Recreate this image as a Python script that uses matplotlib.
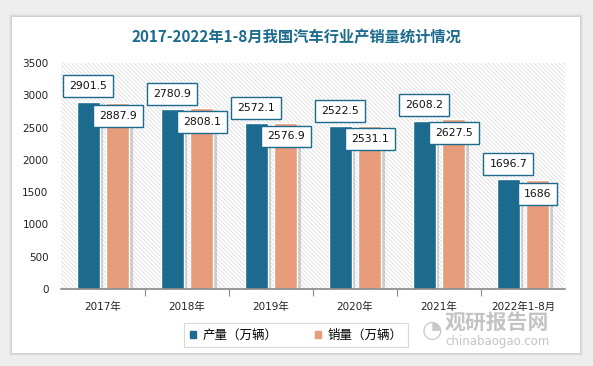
import matplotlib
matplotlib.use("Agg")
import matplotlib.pyplot as plt
import numpy as np
from matplotlib.patches import Rectangle
import matplotlib.patheffects as pe

categories = ["2017年", "2018年", "2019年", "2020年", "2021年", "2022年1-8月"]
production = [2901.5, 2780.9, 2572.1, 2522.5, 2608.2, 1696.7]
sales = [2887.9, 2808.1, 2576.9, 2531.1, 2627.5, 1686]
prod_labels = ["2901.5", "2780.9", "2572.1", "2522.5", "2608.2", "1696.7"]
sales_labels = ["2887.9", "2808.1", "2576.9", "2531.1", "2627.5", "1686"]
yticks = [0, 500, 1000, 1500, 2000, 2500, 3000, 3500]
title = "2017-2022年1-8月我国汽车行业产销量统计情况"
legend_names = ["产量（万辆）", "销量（万辆）"]

BLUE = "#1c6a8e"
SALMON = "#e79c7c"
CJK = ["DejaVu Sans", "Noto Sans CJK SC"]

plt.rcParams["hatch.linewidth"] = 0.5
plt.rcParams["hatch.color"] = "#d6d6d6"

W, H = 593, 366
fig = plt.figure(figsize=(W / 100, H / 100), dpi=100)
fig.patch.set_facecolor("#eeeeee")

# card with shadow
for i, a in enumerate([0.03, 0.04, 0.05]):
    d = 3 - i
    fig.patches.append(Rectangle(((12 - d) / W, 1 - (353 + d) / H), (568 + 2 * d) / W, (336 + 2 * d) / H,
                                 transform=fig.transFigure, facecolor="#000000", alpha=a, edgecolor="none", zorder=0))
fig.patches.append(Rectangle((12 / W, 1 - 353 / H), 568 / W, 336 / H, transform=fig.transFigure,
                             facecolor="white", edgecolor="none", zorder=0.5))

left, right, top, bottom = 61, 565, 63, 289
ax = fig.add_axes([left / W, 1 - bottom / H, (right - left) / W, (bottom - top) / H])
ax.set_facecolor("white")
ax.set_zorder(1)

# hatched background
ax.add_patch(Rectangle((0, 0), 1, 1, transform=ax.transAxes, facecolor="white",
                       edgecolor="#d6d6d6", hatch="\\" * 8, linewidth=0, zorder=0))

x = np.arange(len(categories))
bw = 0.27
off = 0.175
shadow = [pe.SimplePatchShadow(offset=(2.5, -2), shadow_rgbFace="#9a9a9a", alpha=0.45), pe.Normal()]
b1 = ax.bar(x - off, production, bw, color=BLUE, edgecolor="white", linewidth=1.0, zorder=2)
b2 = ax.bar(x + off, sales, bw, color=SALMON, edgecolor="white", linewidth=1.0, zorder=2)
for b in list(b1) + list(b2):
    b.set_path_effects(shadow)

ax.set_xlim(-0.5, len(categories) - 0.5)
ax.set_ylim(0, 3500)
ax.set_yticks(yticks)
ax.set_yticklabels([str(v) for v in yticks], fontsize=7.5, color="#222222")
ax.tick_params(axis="y", length=0, pad=9)
ax.set_xticks(x)
ax.set_xticklabels(categories, fontsize=7.5, family=CJK, color="#222222")
ax.tick_params(axis="x", length=0, pad=9)
ax.set_xticks(np.arange(1, len(categories)) - 0.5, minor=True)
ax.tick_params(axis="x", which="minor", length=5, color="#888888", width=0.8)
for s in ["top", "right", "left"]:
    ax.spines[s].set_visible(False)
ax.spines["bottom"].set_color("#888888")
ax.spines["bottom"].set_linewidth(1.2)

box = dict(boxstyle="square,pad=0.55", facecolor="white", edgecolor=BLUE, linewidth=1.0)
for xi, v, t in zip(x, production, prod_labels):
    ax.annotate(t, (xi - off, v), xytext=(0, 11), textcoords="offset points", ha="center", va="center",
                fontsize=7.8, color="#111111", bbox=box, zorder=5)
for xi, v, t in zip(x, sales, sales_labels):
    ax.annotate(t, (xi + off, v), xytext=(0, -10), textcoords="offset points", ha="center", va="center",
                fontsize=7.8, color="#111111", bbox=box, zorder=5)

fig.text(296 / W, 1 - 37 / H, title, ha="center", va="center", fontsize=11, fontweight="bold",
         color="#1c6a8e", family=["Noto Sans CJK SC"])

handles = [Rectangle((0, 0), 1, 1, color=BLUE), Rectangle((0, 0), 1, 1, color=SALMON)]
leg = fig.legend(handles, legend_names, loc="center", bbox_to_anchor=(296 / W, 1 - 335 / H), ncol=2,
                 prop={"family": "Noto Sans CJK SC", "size": 9}, frameon=True, fancybox=False,
                 handlelength=0.5, handleheight=0.5, handletextpad=0.5, columnspacing=3.0,
                 borderpad=0.45)
leg.get_frame().set_edgecolor("#d0d0d0")
leg.get_frame().set_linewidth(0.8)

# watermark
fig.text(497 / W, 1 - 322 / H, "观研报告网", ha="center", va="center", fontsize=15, fontweight="bold",
         color="#bdbdbd", family=["Noto Sans CJK SC"], alpha=0.9, zorder=10)
fig.text(497 / W, 1 - 342 / H, "chinabaogao.com", ha="center", va="center", fontsize=8.5,
         color="#c4c4c4", zorder=10)
fig.text(432 / W, 1 - 330 / H, "◔", ha="center", va="center", fontsize=17, color="#c8c8c8", zorder=10)

fig.savefig("out.png", dpi=100, facecolor=fig.get_facecolor())
